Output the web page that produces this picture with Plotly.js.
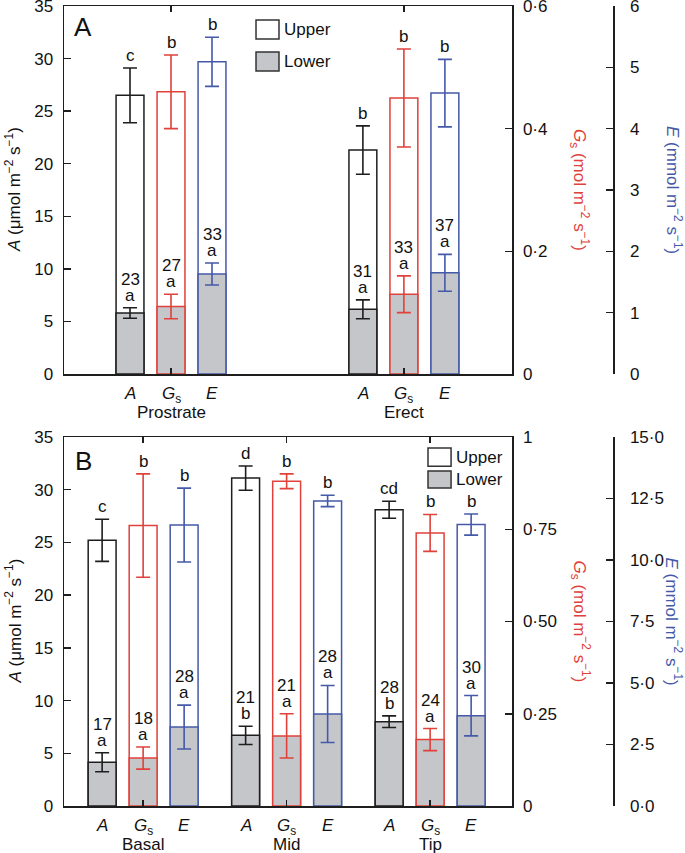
<!DOCTYPE html>
<html>
<head>
<meta charset="utf-8">
<script src="https://cdn.plot.ly/plotly-3.0.1.min.js"></script>
<style>
  body { margin: 0; background: #fff; }
  #chart { width: 685px; height: 853px; }
</style>
</head>
<body>
<div id="chart"></div>
<script>
// ---- panel A : Prostrate / Erect ----
const groupsA = ['Prostrate', 'Erect'];
const aUpperA = [26.5, 21.3];
const aUpperErrA = [2.6, 2.3];
const aLowerA = [5.8, 6.15];
const aLowerErrA = [0.5, 0.9];
const gsUpperA = [0.46, 0.45];
const gsUpperErrA = [0.06, 0.08];
const gsLowerA = [0.11, 0.13];
const gsLowerErrA = [0.02, 0.03];
const eUpperA = [5.09, 4.58];
const eUpperErrA = [0.40, 0.55];
const eLowerA = [1.63, 1.65];
const eLowerErrA = [0.18, 0.30];
// significance letters and lower/upper percentages
const aLettersUpA = ['c', 'b'];
const gsLettersUpA = ['b', 'b'];
const eLettersUpA = ['b', 'b'];
const aLettersLowA = ['a', 'a'];
const gsLettersLowA = ['a', 'a'];
const eLettersLowA = ['a', 'a'];
const aPctA = [23, 31];
const gsPctA = [27, 33];
const ePctA = [33, 37];

// ---- panel B : Basal / Mid / Tip ----
const groupsB = ['Basal', 'Mid', 'Tip'];
const aUpperB = [25.2, 31.1, 28.1];
const aUpperErrB = [2.0, 1.15, 0.8];
const aLowerB = [4.15, 6.7, 8.0];
const aLowerErrB = [0.9, 0.86, 0.55];
const gsUpperB = [0.76, 0.88, 0.74];
const gsUpperErrB = [0.14, 0.02, 0.05];
const gsLowerB = [0.13, 0.19, 0.18];
const gsLowerErrB = [0.03, 0.06, 0.03];
const eUpperB = [11.42, 12.4, 11.44];
const eUpperErrB = [1.5, 0.23, 0.43];
const eLowerB = [3.21, 3.74, 3.67];
const eLowerErrB = [0.89, 1.16, 0.82];
const aLettersUpB = ['c', 'd', 'cd'];
const gsLettersUpB = ['b', 'b', 'b'];
const eLettersUpB = ['b', 'b', 'b'];
const aLettersLowB = ['a', 'b', 'b'];
const gsLettersLowB = ['a', 'a', 'a'];
const eLettersLowB = ['a', 'a', 'a'];
const aPctB = [17, 21, 28];
const gsPctB = [18, 21, 24];
const ePctB = [28, 28, 30];

// axis ticks
const aTicks = [0, 5, 10, 15, 20, 25, 30, 35];
const gsTicksA = [0, 0.2, 0.4, 0.6];
const gsTickTextA = ['0', '0·2', '0·4', '0·6'];
const eTicksA = [0, 1, 2, 3, 4, 5, 6];
const gsTicksB = [0, 0.25, 0.5, 0.75, 1];
const gsTickTextB = ['0', '0·25', '0·50', '0·75', '1'];
const eTicksB = [0, 2.5, 5, 7.5, 10, 12.5, 15];
const eTickTextB = ['0·0', '2·5', '5·0', '7·5', '10·0', '12·5', '15·0'];

const varLabels = ['<i>A</i>', '<i>G</i><sub>s</sub>', '<i>E</i>'];

// styles
const FONT = 'Liberation Sans, Arial, sans-serif';
const INK = '#1e1e1e';
const RED = '#e0413a';
const BLUE = '#4459a8';
const GREY = '#c5c6c9';
const X_MAX = 448 / 41;
const groupCentersA = [2.61, 8.29];
const groupCentersB = [1.93, 5.43, 8.93];

const traces = [];
const annotations = [];

function addVariable(centers, offset, xa, ya, color, up, upErr, lo, loErr, letUp, letLow, pct) {
    const xs = centers.map(c => c + offset);
    const errStyle = { type: 'data', visible: true, color: color, thickness: 1.6, width: 7 };
    traces.push({
        type: 'bar', x: xs, y: up, width: 0.68, xaxis: xa, yaxis: ya,
        marker: { color: '#fff', line: { color: color, width: 1.5 } },
        error_y: Object.assign({ array: upErr }, errStyle),
        showlegend: false, hoverinfo: 'skip'
    });
    traces.push({
        type: 'bar', x: xs, y: lo, width: 0.68, xaxis: xa, yaxis: ya,
        marker: { color: GREY, line: { color: color, width: 1.5 } },
        error_y: Object.assign({ array: loErr }, errStyle),
        showlegend: false, hoverinfo: 'skip'
    });
    xs.forEach((x, i) => {
        const base = { x: x, xref: xa, yref: ya, showarrow: false, xanchor: 'center', yanchor: 'bottom',
            font: { family: FONT, size: 17, color: '#111' } };
        annotations.push(Object.assign({}, base, { y: up[i] + upErr[i], text: letUp[i], yshift: 1 }));
        annotations.push(Object.assign({}, base, { y: lo[i] + loErr[i], text: letLow[i], yshift: 1 }));
        annotations.push(Object.assign({}, base, { y: lo[i] + loErr[i], text: String(pct[i]), yshift: 17 }));
    });
}

function addCategoryLabels(centers, groups, xa, ya) {
    centers.forEach((c, g) => {
        [-1, 0, 1].forEach((off, k) => {
            annotations.push({ x: c + off, y: 0, xref: xa, yref: ya + ' domain', xanchor: 'center', yanchor: 'top',
                yshift: -8, text: varLabels[k], showarrow: false, font: { family: FONT, size: 17, color: '#111' } });
        });
        annotations.push({ x: c, y: 0, xref: xa, yref: ya + ' domain', xanchor: 'center', yanchor: 'top', yshift: -27,
            text: groups[g], showarrow: false, font: { family: FONT, size: 17, color: '#111' } });
    });
}

// panel A
addVariable(groupCentersA, -1, 'x', 'y', INK, aUpperA, aUpperErrA, aLowerA, aLowerErrA, aLettersUpA, aLettersLowA, aPctA);
addVariable(groupCentersA, 0, 'x', 'y2', RED, gsUpperA, gsUpperErrA, gsLowerA, gsLowerErrA, gsLettersUpA, gsLettersLowA, gsPctA);
addVariable(groupCentersA, 1, 'x', 'y3', BLUE, eUpperA, eUpperErrA, eLowerA, eLowerErrA, eLettersUpA, eLettersLowA, ePctA);
addCategoryLabels(groupCentersA, groupsA, 'x', 'y');

// panel B
addVariable(groupCentersB, -1, 'x2', 'y4', INK, aUpperB, aUpperErrB, aLowerB, aLowerErrB, aLettersUpB, aLettersLowB, aPctB);
addVariable(groupCentersB, 0, 'x2', 'y5', RED, gsUpperB, gsUpperErrB, gsLowerB, gsLowerErrB, gsLettersUpB, gsLettersLowB, gsPctB);
addVariable(groupCentersB, 1, 'x2', 'y6', BLUE, eUpperB, eUpperErrB, eLowerB, eLowerErrB, eLettersUpB, eLettersLowB, ePctB);
addCategoryLabels(groupCentersB, groupsB, 'x2', 'y4');

// axis titles, panel letters, legend text
const titleFont = { family: FONT, size: 17, color: '#111' };
const aTitle = '<i>A</i> (μmol m<sup>−2</sup> s<sup>−1</sup>)';
const gsTitle = '<i>G</i><sub>s</sub> (mol m<sup>−2</sup> s<sup>−1</sup>)';
const eTitle = '<i>E</i> (mmol m<sup>−2</sup> s<sup>−1</sup>)';
const centred = { xanchor: 'center', yanchor: 'middle', showarrow: false };
['y', 'y4'].forEach(ya => {
    annotations.push(Object.assign({ text: aTitle, xref: 'paper', x: (13 - 64) / 621, yref: ya + ' domain', y: 0.5,
        textangle: -90, font: titleFont }, centred));
    annotations.push(Object.assign({ text: gsTitle, xref: 'paper', x: (580 - 64) / 621, yref: ya + ' domain', y: 0.5,
        textangle: 90, font: Object.assign({}, titleFont, { color: RED }) }, centred));
    annotations.push(Object.assign({ text: eTitle, xref: 'paper', x: (674 - 64) / 621, yref: ya + ' domain', y: 0.5,
        textangle: 90, font: Object.assign({}, titleFont, { color: BLUE }) }, centred));
});
annotations.push(Object.assign({ text: 'A', xref: 'x domain', yref: 'y domain', x: 0.0435, y: 0.9416,
    font: { family: FONT, size: 26, color: '#111' } }, centred));
annotations.push(Object.assign({ text: 'B', xref: 'x2 domain', yref: 'y4 domain', x: 0.0435, y: 0.935,
    font: { family: FONT, size: 26, color: '#111' } }, centred));

// legend boxes drawn as shapes
const shapes = [];
function addLegend(xa, ya, x0, x1, upY, lowY, textX) {
    const box = { type: 'rect', xref: xa + ' domain', yref: ya + ' domain', line: { color: '#333', width: 1.5 } };
    shapes.push(Object.assign({}, box, { x0: x0, x1: x1, y0: upY[0], y1: upY[1], fillcolor: '#fff' }));
    shapes.push(Object.assign({}, box, { x0: x0, x1: x1, y0: lowY[0], y1: lowY[1], fillcolor: GREY }));
    annotations.push({ text: 'Upper', xref: xa + ' domain', yref: ya + ' domain', x: textX, y: (upY[0] + upY[1]) / 2,
        xanchor: 'left', yanchor: 'middle', showarrow: false, font: titleFont });
    annotations.push({ text: 'Lower', xref: xa + ' domain', yref: ya + ' domain', x: textX, y: (lowY[0] + lowY[1]) / 2,
        xanchor: 'left', yanchor: 'middle', showarrow: false, font: titleFont });
}
addLegend('x', 'y', 0.4286, 0.4799, [0.9103, 0.962], [0.8234, 0.875], 0.486);
addLegend('x2', 'y4', 0.8125, 0.864, [0.921, 0.970], [0.862, 0.908], 0.870);

// axes
const domA = [(806 - 374) / 800, 1];
const domB = [0, 369 / 800];
const xDom = [0, 448 / 621];
const ePos = (613 - 64) / 621;

function yAxis(extra) {
    return Object.assign({
        showline: true, linecolor: INK, linewidth: 1.5, ticks: 'inside', ticklen: 7, tickwidth: 1.5,
        tickcolor: INK, showgrid: false, zeroline: false, tickmode: 'array', ticklabeloverflow: 'allow',
        tickfont: { family: FONT, size: 17, color: '#111' }, ticklabelstandoff: 6
    }, extra);
}
function xAxis(extra) {
    return Object.assign({
        range: [0, X_MAX], domain: xDom, showline: true, linecolor: INK, linewidth: 1.5, mirror: 'ticks',
        ticks: 'inside', ticklen: 6, tickwidth: 1.5, tickcolor: INK, showticklabels: false,
        showgrid: false, zeroline: false, tickmode: 'array'
    }, extra);
}

const layout = {
    width: 685, height: 853,
    margin: { l: 64, r: 0, t: 6, b: 47 },
    paper_bgcolor: '#fff', plot_bgcolor: 'rgba(0,0,0,0)',
    barmode: 'overlay',
    showlegend: false,
    font: { family: FONT, size: 17, color: '#111' },
    xaxis: xAxis({ anchor: 'y', tickvals: groupCentersA }),
    xaxis2: xAxis({ anchor: 'y4', tickvals: groupCentersB }),
    yaxis: yAxis({ domain: domA, anchor: 'x', range: [0, 35], tickvals: aTicks }),
    yaxis2: yAxis({ domain: domA, anchor: 'x', overlaying: 'y', side: 'right', range: [0, 0.6],
        tickvals: gsTicksA, ticktext: gsTickTextA }),
    yaxis3: yAxis({ domain: domA, anchor: 'free', position: ePos, overlaying: 'y', side: 'right', range: [0, 6],
        tickvals: eTicksA, ticklabelstandoff: 12 }),
    yaxis4: yAxis({ domain: domB, anchor: 'x2', range: [0, 35], tickvals: aTicks }),
    yaxis5: yAxis({ domain: domB, anchor: 'x2', overlaying: 'y4', side: 'right', range: [0, 1],
        tickvals: gsTicksB, ticktext: gsTickTextB }),
    yaxis6: yAxis({ domain: domB, anchor: 'free', position: ePos, overlaying: 'y4', side: 'right', range: [0, 15],
        tickvals: eTicksB, ticktext: eTickTextB, ticklabelstandoff: 12 }),
    annotations: annotations,
    shapes: shapes
};

Plotly.newPlot('chart', traces, layout, { staticPlot: true });
</script>
</body>
</html>
